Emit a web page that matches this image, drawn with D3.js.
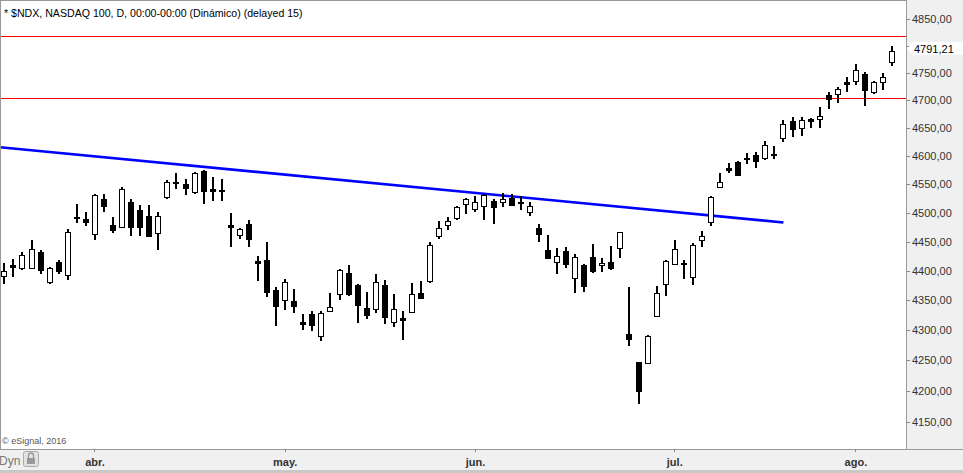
<!DOCTYPE html>
<html lang="es">
<head>
    <meta charset="UTF-8">
    <title>$NDX, NASDAQ 100, D</title>
    <script src="https://d3js.org/d3.v7.min.js"></script>
    <style>
        html, body {
            margin: 0;
            padding: 0;
            overflow: hidden;
            background: #fff;
        }
        svg {
            display: block;
            font-family: "Liberation Sans", Arial, sans-serif;
        }
        .wick { stroke: #000; stroke-width: 2; shape-rendering: crispEdges; }
        .candle { stroke: #000; stroke-width: 1; shape-rendering: crispEdges; }
        .panel { fill: #f0f0f0; }
        .frame { stroke: #999; stroke-width: 1; fill: none; shape-rendering: crispEdges; }
        .level { stroke: #ff0000; stroke-width: 1; shape-rendering: crispEdges; }
        .trend { stroke: #0000ff; stroke-width: 2.6; }
        .y-axis text { font-size: 11px; fill: #333; }
        .x-axis text { font-size: 11px; font-weight: bold; fill: #333; }
        .y-axis line, .x-axis line { stroke: #888; shape-rendering: crispEdges; }
    </style>
</head>
<body>
<script>
    // trading days, Mar 17 2016 .. Aug 5 2016
    const dates = [
        "03-17", "03-18", "03-21", "03-22", "03-23", "03-24", "03-28", "03-29", "03-30", "03-31",
        "04-01", "04-04", "04-05", "04-06", "04-07", "04-08", "04-11", "04-12", "04-13", "04-14",
        "04-15", "04-18", "04-19", "04-20", "04-21", "04-22", "04-25", "04-26", "04-27", "04-28",
        "04-29", "05-02", "05-03", "05-04", "05-05", "05-06", "05-09", "05-10", "05-11", "05-12",
        "05-13", "05-16", "05-17", "05-18", "05-19", "05-20", "05-23", "05-24", "05-25", "05-26",
        "05-27", "05-31", "06-01", "06-02", "06-03", "06-06", "06-07", "06-08", "06-09", "06-10",
        "06-13", "06-14", "06-15", "06-16", "06-17", "06-20", "06-21", "06-22", "06-23", "06-24",
        "06-27", "06-28", "06-29", "06-30", "07-01", "07-05", "07-06", "07-07", "07-08", "07-11",
        "07-12", "07-13", "07-14", "07-15", "07-18", "07-19", "07-20", "07-21", "07-22", "07-25",
        "07-26", "07-27", "07-28", "07-29", "08-01", "08-02", "08-03", "08-04", "08-05"
    ];

    const open = [
        4392, 4410, 4405, 4405, 4432, 4381, 4415, 4392, 4493, 4489,
        4463, 4524, 4478, 4476, 4518, 4505, 4494, 4464, 4526, 4553,
        4550, 4535, 4573, 4541, 4540, 4478, 4462, 4480, 4417, 4419,
        4367, 4351, 4348, 4313, 4327, 4290, 4332, 4361, 4396, 4376,
        4337, 4336, 4376, 4314, 4320, 4331, 4363, 4382, 4460, 4479,
        4491, 4514, 4506, 4510, 4520, 4517, 4526, 4519, 4500, 4473,
        4436, 4414, 4434, 4388, 4410, 4424, 4410, 4415, 4439, 4293,
        4247, 4246, 4324, 4378, 4412, 4413, 4389, 4453, 4484, 4544,
        4579, 4589, 4596, 4601, 4596, 4603, 4631, 4662, 4650, 4666,
        4665, 4709, 4710, 4733, 4734, 4748, 4715, 4733, 4770
    ];
    const high = [
        4413, 4420, 4432, 4452, 4435, 4407, 4418, 4471, 4515, 4502,
        4533, 4532, 4493, 4545, 4524, 4514, 4514, 4502, 4558, 4569,
        4559, 4571, 4575, 4562, 4559, 4500, 4474, 4488, 4426, 4449,
        4372, 4386, 4369, 4327, 4332, 4332, 4362, 4403, 4409, 4378,
        4364, 4395, 4384, 4360, 4332, 4379, 4383, 4450, 4486, 4493,
        4511, 4525, 4529, 4532, 4523, 4535, 4532, 4529, 4518, 4480,
        4462, 4439, 4440, 4429, 4411, 4445, 4422, 4443, 4467, 4372,
        4248, 4292, 4374, 4419, 4453, 4419, 4448, 4468, 4529, 4570,
        4587, 4591, 4605, 4607, 4627, 4617, 4664, 4670, 4670, 4668,
        4687, 4715, 4725, 4743, 4767, 4751, 4735, 4749, 4800
    ];
    const low = [
        4378, 4389, 4401, 4403, 4395, 4377, 4394, 4385, 4482, 4477,
        4452, 4502, 4465, 4474, 4460, 4460, 4458, 4436, 4524, 4542,
        4530, 4532, 4515, 4521, 4521, 4440, 4454, 4440, 4382, 4356,
        4307, 4334, 4329, 4300, 4299, 4282, 4330, 4350, 4358, 4312,
        4318, 4329, 4310, 4305, 4284, 4329, 4352, 4380, 4454, 4470,
        4488, 4497, 4502, 4487, 4480, 4509, 4511, 4504, 4494, 4449,
        4421, 4394, 4405, 4363, 4364, 4397, 4398, 4402, 4421, 4274,
        4179, 4244, 4322, 4358, 4411, 4386, 4376, 4440, 4477, 4544,
        4570, 4565, 4586, 4579, 4592, 4595, 4624, 4634, 4636, 4650,
        4649, 4684, 4695, 4715, 4728, 4690, 4711, 4718, 4763
    ];
    const close = [
        4400, 4407, 4427, 4437, 4402, 4405, 4399, 4466, 4491, 4484,
        4530, 4511, 4470, 4542, 4475, 4476, 4459, 4494, 4553, 4551,
        4543, 4569, 4537, 4538, 4538, 4474, 4472, 4454, 4414, 4364,
        4340, 4381, 4340, 4310, 4309, 4329, 4339, 4402, 4360, 4342,
        4325, 4381, 4322, 4336, 4316, 4361, 4354, 4444, 4474, 4486,
        4510, 4523, 4519, 4530, 4510, 4523, 4514, 4517, 4511, 4462,
        4422, 4425, 4411, 4424, 4375, 4400, 4414, 4405, 4467, 4285,
        4200, 4290, 4363, 4417, 4437, 4411, 4444, 4460, 4527, 4553,
        4576, 4566, 4594, 4590, 4619, 4601, 4657, 4647, 4665, 4663,
        4671, 4702, 4720, 4730, 4755, 4719, 4733, 4742, 4791.21
    ];

    const priceTicks = [4150, 4200, 4250, 4300, 4350, 4400, 4450, 4500,
                        4550, 4600, 4650, 4700, 4750, 4800, 4850];
    const monthStarts = ["04-01", "05-02", "06-01", "07-01", "08-01"];
    const monthLabels = ["abr.", "may.", "jun.", "jul.", "ago."];

    // drawn studies
    const levels = [4818, 4703];
    const trendDates = ["03-17", "07-20"];
    const trendPrices = [4614.5, 4483];

    const W = 963, H = 473;
    const plotRight = 906, plotBottom = 449;

    const svg = d3.select("body").append("svg")
        .attr("width", W)
        .attr("height", H);

    svg.append("defs").append("clipPath")
        .attr("id", "plot-clip")
        .append("rect")
        .attr("x", 0).attr("y", 0)
        .attr("width", plotRight).attr("height", plotBottom);

    const x = d3.scaleBand()
        .domain(dates)
        .range([-0.2, 896.7]);
    const cx = d => x(d) + x.bandwidth() / 2;

    const y = d3.scaleLog()
        .domain([4150, 4850])
        .range([422, 19]);

    const candles = dates.map((d, i) => ({
        date: d, o: open[i], h: high[i], l: low[i], c: close[i]
    }));

    // panels round the plot
    svg.append("rect").attr("class", "panel")
        .attr("x", plotRight).attr("y", 0)
        .attr("width", W - plotRight).attr("height", H);
    svg.append("rect").attr("class", "panel")
        .attr("x", 0).attr("y", plotBottom)
        .attr("width", W).attr("height", H - plotBottom);
    svg.append("rect")
        .attr("x", 0).attr("y", 470)
        .attr("width", W).attr("height", 3)
        .attr("fill", "#c8c8c8");

    const plot = svg.append("g").attr("clip-path", "url(#plot-clip)");

    // horizontal levels (red)
    plot.selectAll("line.level")
        .data(levels)
        .join("line")
        .attr("class", "level")
        .attr("x1", 0).attr("x2", plotRight)
        .attr("y1", d => Math.floor(y(d)) + 0.5)
        .attr("y2", d => Math.floor(y(d)) + 0.5);

    // trend line, extended to the left edge
    const tx1 = cx(trendDates[0]), ty1 = y(trendPrices[0]);
    const tx2 = cx(trendDates[1]), ty2 = y(trendPrices[1]);
    const slope = (ty2 - ty1) / (tx2 - tx1);
    plot.append("line")
        .attr("class", "trend")
        .attr("x1", 0).attr("y1", ty1 - slope * tx1)
        .attr("x2", tx2).attr("y2", ty2);

    // candles
    const cg = plot.append("g")
        .selectAll("g")
        .data(candles)
        .join("g");

    cg.append("line")
        .attr("class", "wick")
        .attr("x1", d => Math.round(cx(d.date)))
        .attr("x2", d => Math.round(cx(d.date)))
        .attr("y1", d => y(d.h))
        .attr("y2", d => y(d.l));

    cg.append("rect")
        .attr("class", "candle")
        .attr("x", d => Math.round(cx(d.date)) - 2.5)
        .attr("width", 5)
        .attr("y", d => Math.round(y(Math.max(d.o, d.c))) + 0.5)
        .attr("height", d => Math.max(1, Math.round(y(Math.min(d.o, d.c)) - y(Math.max(d.o, d.c)))))
        .attr("fill", d => d.c >= d.o ? "#fff" : "#000");

    // frame
    svg.append("rect").attr("class", "frame")
        .attr("x", 0.5).attr("y", 0.5)
        .attr("width", plotRight - 0.5).attr("height", plotBottom - 0.5);
    svg.append("line").attr("class", "frame")
        .attr("x1", 0).attr("x2", W)
        .attr("y1", plotBottom + 0.5).attr("y2", plotBottom + 0.5);

    // price axis
    const fmt = d3.format(".2f");
    const yAxis = svg.append("g")
        .attr("class", "y-axis")
        .attr("transform", `translate(${plotRight + 1},0)`)
        .call(d3.axisRight(y)
            .tickValues(priceTicks)
            .tickSize(3)
            .tickPadding(2)
            .tickFormat(d => fmt(d).replace(".", ",")));
    yAxis.select(".domain").remove();

    // date axis
    const xAxis = svg.append("g")
        .attr("class", "x-axis")
        .attr("transform", `translate(0,${plotBottom})`)
        .call(d3.axisBottom(x)
            .tickValues(monthStarts)
            .tickSize(3)
            .tickPadding(6)
            .tickFormat(d => monthLabels[monthStarts.indexOf(d)]));
    xAxis.select(".domain").remove();

    // last price marker
    const last = candles[candles.length - 1];
    const ly = Math.round(y(last.c)) - 2.5;
    svg.append("path")
        .attr("d", `M${plotRight + 1},${ly} L${plotRight + 7},${ly - 6.5} L${W},${ly - 6.5} L${W},${ly + 6.5} L${plotRight + 7},${ly + 6.5} Z`)
        .attr("fill", "#fff");
    svg.append("text")
        .attr("x", plotRight + 8)
        .attr("y", ly + 4)
        .attr("font-size", 11)
        .attr("fill", "#000")
        .text(fmt(last.c).replace(".", ","));

    // title and credits
    svg.append("text")
        .attr("x", 4).attr("y", 17)
        .attr("font-size", 10.6)
        .attr("fill", "#000")
        .text("* $NDX, NASDAQ 100, D, 00:00-00:00 (Dinámico) (delayed 15)");

    svg.append("text")
        .attr("x", 2).attr("y", 444)
        .attr("font-size", 9)
        .attr("fill", "#555")
        .text("© eSignal, 2016");

    // Dyn + lock button
    svg.append("text")
        .attr("x", -1).attr("y", 465)
        .attr("font-size", 12)
        .attr("fill", "#777")
        .text("Dyn");
    svg.append("rect")
        .attr("x", 23.5).attr("y", 451.5)
        .attr("width", 15).attr("height", 15)
        .attr("rx", 2)
        .attr("fill", "#e2e2e2")
        .attr("stroke", "#aaa");
    svg.append("path")
        .attr("d", "M28.5,458 v-2.5 a2.5,2.5 0 0 1 5,0 v2.5")
        .attr("fill", "none")
        .attr("stroke", "#999")
        .attr("stroke-width", 1.3);
    svg.append("rect")
        .attr("x", 27).attr("y", 458)
        .attr("width", 8).attr("height", 6)
        .attr("fill", "#999");
</script>
</body>
</html>
